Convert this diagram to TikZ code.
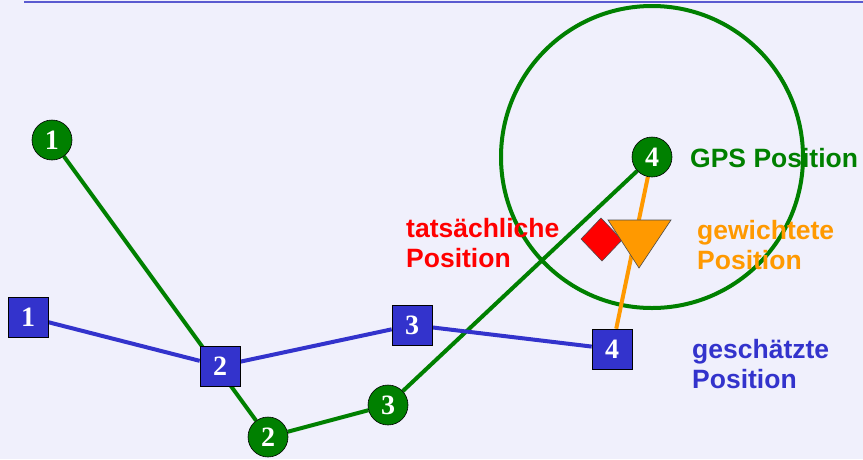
\documentclass[tikz,border=0pt]{standalone}
\usepackage{fontspec}
\setmainfont{Liberation Sans}
\newfontfamily\numfont{Liberation Serif}
\definecolor{bg}{RGB}{240,240,252}
\definecolor{gpsgreen}{RGB}{0,128,0}
\definecolor{estblue}{RGB}{51,51,204}
\definecolor{wtorange}{RGB}{255,153,0}
\definecolor{truered}{RGB}{255,0,0}
\definecolor{topline}{RGB}{90,90,208}
\pgfdeclarelayer{background}
\pgfsetlayers{background,main}
\tikzset{
  gpsnode/.style={circle, draw=black, line width=0.6pt, fill=gpsgreen, minimum size=40pt, inner sep=0pt, text=white, font=\numfont\bfseries\fontsize{28}{28}\selectfont},
  estnode/.style={rectangle, draw=black, line width=0.6pt, fill=estblue, minimum size=40pt, inner sep=0pt, text=white, font=\numfont\bfseries\fontsize{28}{28}\selectfont},
  lbl/.style={inner sep=0pt, align=left, font=\bfseries\fontsize{26.5}{30}\selectfont},
  gline/.style={draw=gpsgreen, line width=4pt},
  bline/.style={draw=estblue, line width=4pt},
  oline/.style={draw=wtorange, line width=4pt},
}
\begin{document}
\begin{tikzpicture}[x=1pt,y=-1pt]
\useasboundingbox (0,0) rectangle (863,459);
% true position and weighted position markers
\filldraw[fill=truered, draw=black!70, line width=0.6pt] (581,239) -- (601,218) -- (622,240) -- (602,261) -- cycle;
\filldraw[fill=wtorange, draw=black!70, line width=0.6pt] (608,220) -- (671,220) -- (639,268) -- cycle;
% nodes
\node[gpsnode] (g1) at (52,140) {1};
\node[gpsnode] (g2) at (268,437) {2};
\node[gpsnode] (g3) at (388,405) {3};
\node[gpsnode] (g4) at (652,157) {4};
\node[estnode] (b1) at (28,317) {1};
\node[estnode] (b2) at (220,366) {2};
\node[estnode] (b3) at (412,325) {3};
\node[estnode] (b4) at (612,349) {4};
% labels
\node[lbl, text=gpsgreen, anchor=base west] (lgps) at (690,167) {GPS Position};
\node[lbl, text=truered, anchor=north west] (ltrue) at (406,218.5) {tatsächliche\\Position};
\node[lbl, text=wtorange, anchor=north west] (lwt) at (697,220.5) {gewichtete\\Position};
\node[lbl, text=estblue, anchor=north west] (lest) at (692,339) {geschätzte\\Position};
\begin{pgfonlayer}{background}
\fill[bg] (0,0) rectangle (863,459);
\draw[topline, line width=2pt] (24,1.5) -- (863,1.5);
\draw[gpsgreen, line width=4pt] (g4.center) circle (151);
\path[gline] (g1) -- (g2) -- (g3) -- (g4);
\path[bline] (b1) -- (b2) -- (b3) -- (b4);
\path[oline] (g4) -- (b4);
\end{pgfonlayer}
\end{tikzpicture}
\end{document}
